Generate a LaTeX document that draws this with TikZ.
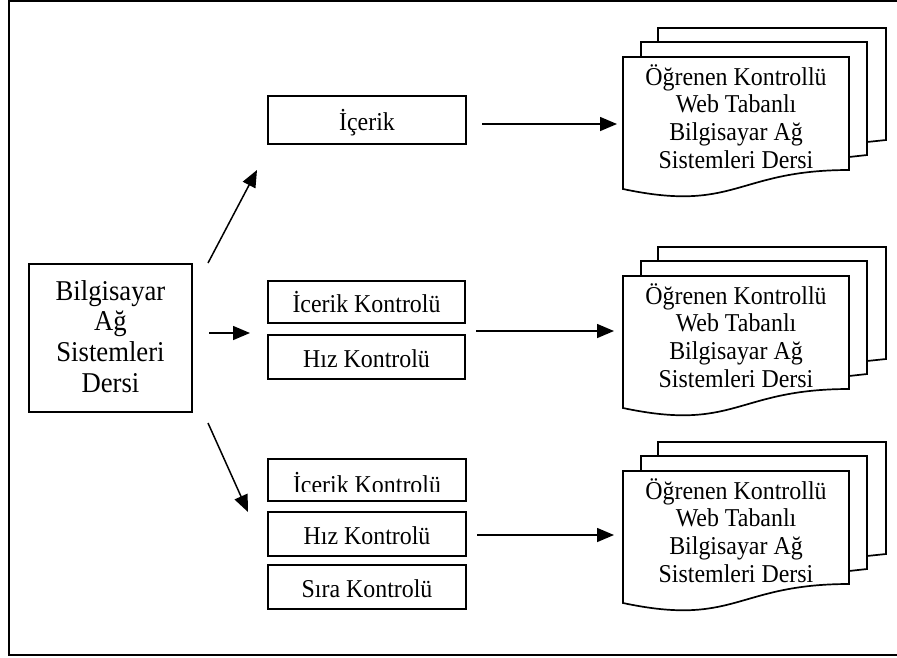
\documentclass[tikz,border=0pt]{standalone}
\usepackage{fontspec}
\setmainfont[FakeStretch=0.93]{Liberation Serif}
\usetikzlibrary{arrows.meta}
\tikzset{
 boxn/.style={draw, line width=1.7pt, inner sep=0pt, text height=20pt, text depth=0pt, font=\fontsize{25.7}{28}\selectfont},
 arr/.style={line width=1.5pt, -{Triangle[length=17pt,width=14pt]}},
 docline/.style={line width=1.7pt, line join=miter},
 doctext/.style={align=center, anchor=north, inner sep=0pt, font=\fontsize{25.7}{27.7}\selectfont},
}
\newcommand\mdoc[3]{%
 \begin{scope}[shift={(#2,#3)}]
 \draw[docline] (35,-15) -- (35,-29) -- (263,-29) -- (263,83) -- (244,85);
 \draw[docline] (18,0) -- (18,-15) -- (244,-15) -- (244,98) -- (226,100);
 \draw[docline,fill=white] (0,0) -- (226,0) -- (226,113) .. controls (113,113) and (113,156) .. (0,132) -- cycle;
 \node[doctext] (#1t) at (113,4) {\rule{0pt}{24pt}Öğrenen Kontrollü\\Web Tabanlı\\Bilgisayar Ağ\\Sistemleri Dersi};
 \end{scope}}
\begin{document}
\begin{tikzpicture}[x=1pt,y=-1pt]
\useasboundingbox (0,0) rectangle (897,657);
\clip (0,0) rectangle (897,657);
\draw[line width=1.8pt] (910,1) -- (9,1) -- (9,655) -- (910,655);

% source box
\node[draw, line width=1.7pt, minimum width=163pt, minimum height=148pt, inner sep=0pt] (src) at (110.5,338) {};
\node[anchor=north, align=center, inner sep=0pt, font=\fontsize{28.7}{30.7}\selectfont] (srct) at (110.5,276) {\rule{0pt}{24pt}Bilgisayar\\Ağ\\Sistemleri\\Dersi};

% top branch
\node[boxn, minimum width=198pt, minimum height=48pt] (ic) at (367,120) {İçerik};
% middle branch
\node[boxn, minimum width=197pt, minimum height=42pt] (mk1) at (366.5,302) {İcerik Kontrolü};
\node[boxn, minimum width=197pt, minimum height=44pt] (mk2) at (366.5,357) {Hız Kontrolü};
% bottom branch
\node[draw, line width=1.7pt, minimum width=198pt, minimum height=42pt, inner sep=0pt] (bk1) at (367,480) {};
\begin{scope}
\clip (268,459) rectangle (466,491);
\node[anchor=base, inner sep=0pt, font=\fontsize{25.7}{28}\selectfont] (bk1t) at (367,493) {İcerik Kontrolü};
\end{scope}
\node[boxn, minimum width=198pt, minimum height=44pt] (bk2) at (367,534) {Hız Kontrolü};
\node[boxn, minimum width=198pt, minimum height=44pt] (bk3) at (367,587) {Sıra Kontrolü};

% documents
\mdoc{d1}{623}{57}
\mdoc{d2}{623}{276}
\mdoc{d3}{623}{471}

% arrow end points
\coordinate (a1s) at (208,263); \coordinate (a1e) at (257,170);
\coordinate (a2s) at (209,333); \coordinate (a2e) at (250,333);
\coordinate (a3s) at (208,423); \coordinate (a3e) at (248,512);
\coordinate (b1s) at (482,124); \coordinate (b1e) at (617,124);
\coordinate (b2s) at (476,331); \coordinate (b2e) at (614,331);
\coordinate (b3s) at (477,535); \coordinate (b3e) at (614,535);

\draw[arr] (a1s) -- (a1e);
\draw[arr] (a2s) -- (a2e);
\draw[arr] (a3s) -- (a3e);
\draw[arr] (b1s) -- (b1e);
\draw[arr] (b2s) -- (b2e);
\draw[arr] (b3s) -- (b3e);
\end{tikzpicture}
\end{document}
